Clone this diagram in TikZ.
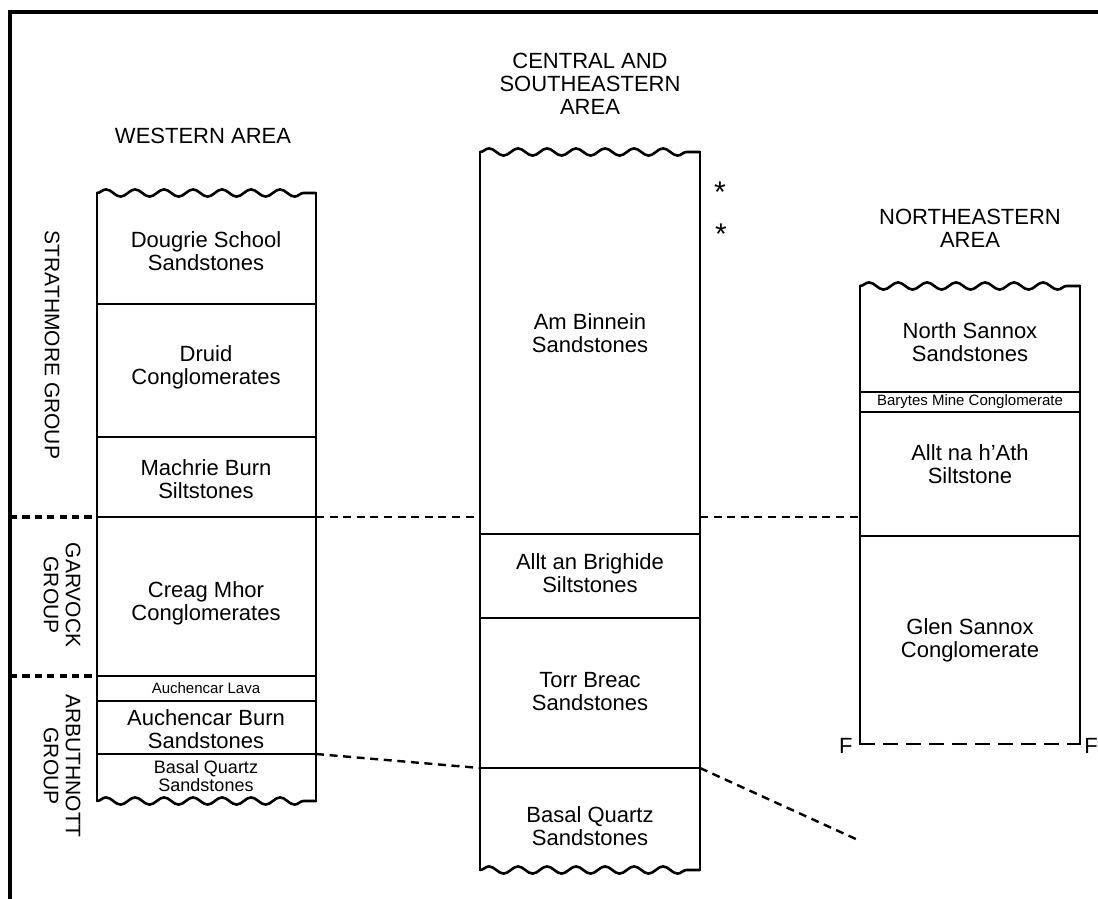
\documentclass[tikz,border=0pt]{standalone}
\usepackage{fontspec}
\setmainfont{Liberation Sans}
\usetikzlibrary{calc,decorations.pathmorphing}

\begin{document}
\begin{tikzpicture}[x=0.5pt,y=-0.5pt,
    col/.style={line width=1.4pt, line cap=rect},
    bed/.style={line width=0.9pt},
    wavy/.style={line width=1.3pt, decorate,
      decoration={snake, amplitude=1.8pt, segment length=14.5pt}},
    txt/.style={align=center, inner sep=0pt, font=\fontsize{11}{11.5}\selectfont},
    tiny/.style={align=center, inner sep=0pt, font=\fontsize{7.5}{8}\selectfont},
    grp/.style={align=center, inner sep=0pt, rotate=-90, font=\fontsize{10.5}{11}\selectfont},
    corr/.style={line width=1.2pt, dash pattern=on 4pt off 2.8pt},
    grpline/.style={line width=1.8pt, dash pattern=on 3.6pt off 2.6pt}
    ]
  \useasboundingbox (0,0) rectangle (1098,899);

  % outer frame
  \draw[line width=1.7pt] (10,905) -- (10,12) -- (1105,12);

  % western column
  \coordinate (w-tl) at (97,193);   \coordinate (w-tr) at (316,193);
  \coordinate (w-bl) at (97,801);   \coordinate (w-br) at (316,801);
  \draw[col] (w-tl) -- (w-bl);
  \draw[col] (w-tr) -- (w-br);
  \draw[wavy] (w-tl) -- (w-tr);
  \draw[wavy] (w-bl) -- (w-br);
  \foreach \y in {304,437,517,676,701,754}
    \draw[bed] (97,\y) -- (316,\y);
  \coordinate (w-517) at (316,517);
  \coordinate (w-754) at (316,754);

  % central column
  \coordinate (c-tl) at (480,152);  \coordinate (c-tr) at (700,152);
  \coordinate (c-bl) at (480,870);  \coordinate (c-br) at (700,870);
  \draw[col] (c-tl) -- (c-bl);
  \draw[col] (c-tr) -- (c-br);
  \draw[wavy] (c-tl) -- (c-tr);
  \draw[wavy] (c-bl) -- (c-br);
  \foreach \y in {534,618,768}
    \draw[bed] (480,\y) -- (700,\y);
  \coordinate (c-517l) at (480,517);
  \coordinate (c-517r) at (700,517);
  \coordinate (c-768l) at (480,768);
  \coordinate (c-768r) at (700,768);

  % northeastern column
  \coordinate (n-tl) at (860,286);  \coordinate (n-tr) at (1080,286);
  \coordinate (n-bl) at (860,744);  \coordinate (n-br) at (1080,744);
  \draw[col] (n-tl) -- (n-bl);
  \draw[col] (n-tr) -- (n-br);
  \draw[wavy] (n-tl) -- (n-tr);
  \draw[line width=1.3pt, dash pattern=on 7.5pt off 4pt] (n-bl) -- (n-br);
  \foreach \y in {392,412,536}
    \draw[bed] (860,\y) -- (1080,\y);
  \coordinate (n-517) at (860,517);
  \coordinate (n-end) at (858,840);

  % correlation lines
  \draw[corr] (w-517) -- (c-517l);
  \draw[corr] (c-517r) -- (n-517);
  \draw[corr] (w-754) -- (c-768l);
  \draw[corr] (c-768r) -- (n-end);

  % group boundaries
  \coordinate (g-517) at (10,517);
  \coordinate (g-676) at (10,676);
  \draw[grpline] (g-517) -- (97,517);
  \draw[grpline] (g-676) -- (97,676);

  % headings
  \node[txt] (west) at (203,136) {WESTERN AREA};
  \node[txt] (central) at (590,84) {CENTRAL AND\\SOUTHEASTERN\\AREA};
  \node[txt] (northeast) at (970,228) {NORTHEASTERN\\AREA};

  % groups
  \node[grp] (strathmore) at (52,345) {STRATHMORE GROUP};
  \node[grp] (garvock) at (62,595) {GARVOCK\\GROUP};
  \node[grp] (arbuthnott) at (62,766) {ARBUTHNOTT\\GROUP};

  % western units
  \node[txt] (dougrie) at (206,251) {Dougrie School\\Sandstones};
  \node[txt] (druid) at (206,367) {Druid\\Conglomerates};
  \node[txt] (machrie) at (206,479) {Machrie Burn\\Siltstones};
  \node[txt] (creag) at (206,603) {Creag Mhor\\Conglomerates};
  \node[tiny] (lava) at (206,688) {Auchencar Lava};
  \node[txt] (auchencar) at (206,729) {Auchencar Burn\\Sandstones};
  \node[align=center, inner sep=0pt, font=\fontsize{9}{9}\selectfont] (w-basal) at (206,776) {Basal Quartz\\Sandstones};

  % central units
  \node[txt] (binnein) at (590,333) {Am Binnein\\Sandstones};
  \node[txt] (brighide) at (590,573) {Allt an Brighide\\Siltstones};
  \node[txt] (torr) at (590,692) {Torr Breac\\Sandstones};
  \node[txt] (c-basal) at (590,826) {Basal Quartz\\Sandstones};
  \node[inner sep=0pt, font=\fontsize{15}{15}\selectfont] (star1) at (720,192) {*};
  \node[inner sep=0pt, font=\fontsize{15}{15}\selectfont] (star2) at (721,234) {*};

  % northeastern units
  \node[txt] (sannox) at (970,342) {North Sannox\\Sandstones};
  \node[tiny] (barytes) at (970,402) {Barytes Mine Conglomerate};
  \node[txt] (athsilt) at (970,464) {Allt na h'Ath\\Siltstone};
  \node[txt] (glen) at (970,640) {Glen Sannox\\Conglomerate};
  \node[txt, anchor=east] (f-left) at (853,746) {F};
  \node[txt, anchor=west] (f-right) at (1084,746) {F};
\end{tikzpicture}
\end{document}
